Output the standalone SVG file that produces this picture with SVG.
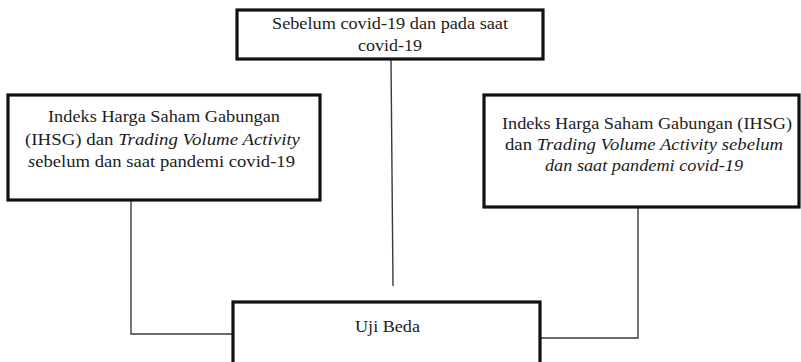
<svg xmlns="http://www.w3.org/2000/svg" width="801" height="362" viewBox="0 0 801 362">
<style>
.box{fill:#fff;stroke:#111;stroke-width:3.2}
.t{font-family:'Liberation Serif','Times New Roman',serif;font-size:16.5px;fill:#1c1c1c;text-anchor:middle}
.i{font-style:italic}
.c{fill:none;stroke:#3a3a3a;stroke-width:1.4}
</style>
<rect width="801" height="362" fill="#fff"/>
<g id="connectors">
<polyline class="c" points="131,200 131,334 233,334"/>
<line class="c" x1="391" y1="59" x2="393" y2="286"/>
<polyline class="c" points="638,207 638,338 540,338"/>
</g>
<g id="node-top">
<rect class="box" x="237" y="10" width="306" height="49"/>
<text class="t" x="390" y="29" textLength="236" lengthAdjust="spacingAndGlyphs">Sebelum covid-19 dan pada saat</text>
<text class="t" x="390" y="51" textLength="64" lengthAdjust="spacingAndGlyphs">covid-19</text>
</g>
<g id="node-left">
<rect class="box" x="8" y="95" width="312" height="105"/>
<text class="t" x="164" y="122" textLength="232" lengthAdjust="spacingAndGlyphs">Indeks Harga Saham Gabungan</text>
<text class="t" x="162.5" y="145" textLength="275" lengthAdjust="spacingAndGlyphs">(IHSG) dan <tspan class="i">Trading Volume Activity</tspan></text>
<text class="t" x="161.5" y="167" textLength="267" lengthAdjust="spacingAndGlyphs"><tspan class="i">s</tspan>ebelum dan saat pandemi covid-19</text>
</g>
<g id="node-right">
<rect class="box" x="484" y="95" width="315" height="112"/>
<text class="t" x="647" y="129" textLength="290" lengthAdjust="spacingAndGlyphs">Indeks Harga Saham Gabungan (IHSG)</text>
<text class="t" x="644" y="150" textLength="278" lengthAdjust="spacingAndGlyphs">dan <tspan class="i">Trading Volume Activity sebelum</tspan></text>
<text class="t i" x="644" y="171" textLength="198" lengthAdjust="spacingAndGlyphs">dan saat pandemi covid-19</text>
</g>
<g id="node-bottom">
<rect class="box" x="233" y="302" width="307" height="75"/>
<text class="t" x="387.5" y="332" textLength="65" lengthAdjust="spacingAndGlyphs">Uji Beda</text>
</g>
</svg>
